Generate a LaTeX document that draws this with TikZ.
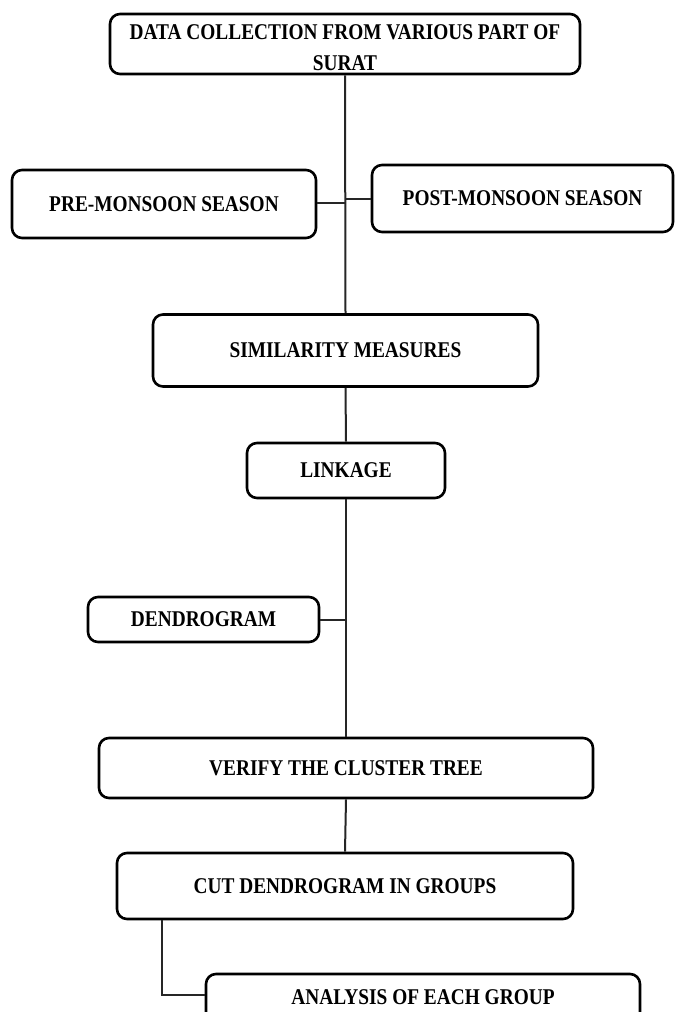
\documentclass[tikz,border=0pt]{standalone}
\usepackage{fontspec}
\setmainfont{Liberation Serif}[FakeStretch=0.86]
\begin{document}
\begin{tikzpicture}[x=1pt,y=-1pt,
  box/.style={draw=black, line width=2.6pt, rounded corners=10pt, fill=white,
    inner sep=0pt, font=\bfseries\fontsize{22.5}{31}\selectfont, align=center},
  conn/.style={draw=black!85, line width=2pt}]
\useasboundingbox (0,0) rectangle (679,1012);
\clip (0,0) rectangle (679,1012);
\fill[white] (0,0) rectangle (679,1012);

\node[box, minimum width=470pt, minimum height=60pt] (top) at (345,44)
  {\raisebox{-10pt}[0pt][0pt]{\begin{tabular}{@{}c@{}}DATA COLLECTION FROM VARIOUS PART OF\\ SURAT\end{tabular}}};
\node[box, minimum width=304pt, minimum height=68pt] (pre) at (164,204) {PRE-MONSOON SEASON};
\node[box, minimum width=301pt, minimum height=67pt] (post) at (522.5,198.5) {POST-MONSOON SEASON};
\node[box, minimum width=385pt, minimum height=72pt] (sim) at (345.5,350.5) {SIMILARITY MEASURES};
\node[box, minimum width=198pt, minimum height=55pt] (link) at (346,470.5) {LINKAGE};
\node[box, minimum width=231pt, minimum height=45pt] (dend) at (203.5,619.5) {DENDROGRAM};
\node[box, minimum width=494pt, minimum height=60pt] (verify) at (346,768) {VERIFY THE CLUSTER TREE};
\node[box, minimum width=456pt, minimum height=66pt] (cut) at (345,886) {CUT DENDROGRAM IN GROUPS};
\node[box, minimum width=434pt, minimum height=50pt] (analysis) at (423,999) {\raisebox{4pt}{ANALYSIS OF EACH GROUP}};

\draw[conn] (top.south) -- (sim.north);
\draw[conn] (pre.east |- 0,203) -- (346,203);
\draw[conn] (post.west) -- (346,198.5);
\draw[conn] (sim.south) -- (link.north);
\draw[conn] (link.south) -- (verify.north);
\draw[conn] (dend.east) -- (dend.east -| link.south);
\draw[conn] (verify.south) -- (cut.north);
\draw[conn] ([xshift=46pt]cut.south west) |- ([yshift=4pt]analysis.west);
\end{tikzpicture}
\end{document}
